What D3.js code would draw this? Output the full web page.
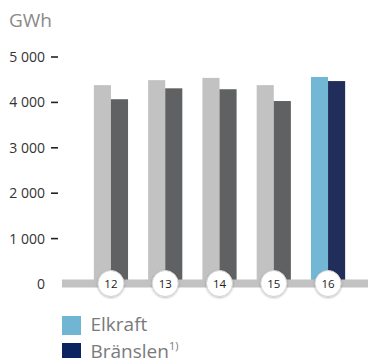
<!DOCTYPE html>
<html>
<head>
<meta charset="utf-8">
<script src="https://cdn.jsdelivr.net/npm/d3@7"></script>
<style>
  html, body { margin: 0; padding: 0; background: #fff; }
  svg { display: block; font-family: "Open Sans", "Noto Sans", sans-serif; }
</style>
</head>
<body>
<svg id="chart" width="368" height="358"></svg>
<script>
// Years (20xx) shown in the circle badges on the axis
const years = ["12", "13", "14", "15", "16"];
// Electricity use, GWh
const elkraft = [4380, 4490, 4540, 4380, 4560];
// Fuel use, GWh
const branslen = [4070, 4310, 4290, 4030, 4470];
// Y-axis tick values and labels
const yTicks = [0, 1000, 2000, 3000, 4000, 5000];
const yTickLabels = ["0", "1 000", "2 000", "3 000", "4 000", "5 000"];
// Legend entries
const legendItems = ["Elkraft", "Bränslen"];

const svg = d3.select("#chart");

const y = d3.scaleLinear().domain([0, 5000]).range([284, 57]);
const x = d3.scaleBand().domain(years).range([83, 356]).paddingInner(0.37).paddingOuter(0.2);
const sub = d3.scaleBand().domain(["el", "br"]).range([0, x.bandwidth()]);

// Unit label
svg.append("text").attr("x", 9).attr("y", 26.5)
  .attr("font-size", 19).attr("fill", "#8a8a8a").text("GWh");

// Y axis: labels plus short dashes, no dash at zero
const yAxis = svg.append("g");
yAxis.selectAll("text").data(yTicks).join("text")
  .attr("x", 45).attr("y", d => y(d)).attr("dy", "0.36em")
  .attr("text-anchor", "end").attr("font-size", 14).attr("fill", "#333")
  .text((d, i) => yTickLabels[i]);
yAxis.selectAll("line").data(yTicks.filter(d => d > 0)).join("line")
  .attr("x1", 51).attr("x2", 58).attr("y1", d => y(d)).attr("y2", d => y(d))
  .attr("stroke", "#222").attr("stroke-width", 1.6);

// Bars; the last year is highlighted in colour
const last = years.length - 1;
const groups = svg.append("g").selectAll("g").data(years).join("g")
  .attr("transform", d => `translate(${x(d)},0)`);
groups.append("rect")
  .attr("x", sub("el")).attr("width", sub.bandwidth())
  .attr("y", (d, i) => y(elkraft[i])).attr("height", (d, i) => y(0) - y(elkraft[i]))
  .attr("fill", (d, i) => i === last ? "#72b8d5" : "#c1c2c1");
groups.append("rect")
  .attr("x", sub("br")).attr("width", sub.bandwidth())
  .attr("y", (d, i) => y(branslen[i])).attr("height", (d, i) => y(0) - y(branslen[i]))
  .attr("fill", (d, i) => i === last ? "#212e5b" : "#606162");

// Baseline band
svg.append("rect").attr("x", 62).attr("y", 279.5).attr("width", 306).attr("height", 8)
  .attr("fill", "#c1c2c1");

// Year badges
const defs = svg.append("defs");
const f = defs.append("filter").attr("id", "sh").attr("x", "-30%").attr("y", "-30%")
  .attr("width", "160%").attr("height", "160%");
f.append("feDropShadow").attr("dx", 0).attr("dy", 0.8).attr("stdDeviation", 0.9)
  .attr("flood-color", "#000").attr("flood-opacity", 0.3);

const badges = svg.append("g").selectAll("g").data(years).join("g")
  .attr("transform", d => `translate(${x(d) + x.bandwidth() / 2},283.5)`);
badges.append("circle").attr("r", 13).attr("fill", "#fff")
  .attr("stroke", "#d4d4d4").attr("stroke-width", 1).attr("filter", "url(#sh)");
badges.append("text").attr("text-anchor", "middle").attr("dy", "0.36em")
  .attr("font-size", 11.5).attr("fill", "#222").text(d => d);

// Legend
const legendColors = ["#70b6d3", "#0b2461"];
const leg = svg.append("g").selectAll("g").data(legendItems).join("g")
  .attr("transform", (d, i) => `translate(62,${316 + i * 27})`);
leg.append("rect").attr("width", 19).attr("height", 19)
  .attr("fill", (d, i) => legendColors[i]);
leg.append("text").attr("x", 28.5).attr("y", 15)
  .attr("font-size", 19).attr("fill", "#7a7a7a")
  .each(function(d, i) {
    const t = d3.select(this);
    t.append("tspan").text(d);
    if (i === 1) {
      t.append("tspan").attr("font-size", 11).attr("dy", -8).text("1)");
    }
  });
</script>
</body>
</html>
